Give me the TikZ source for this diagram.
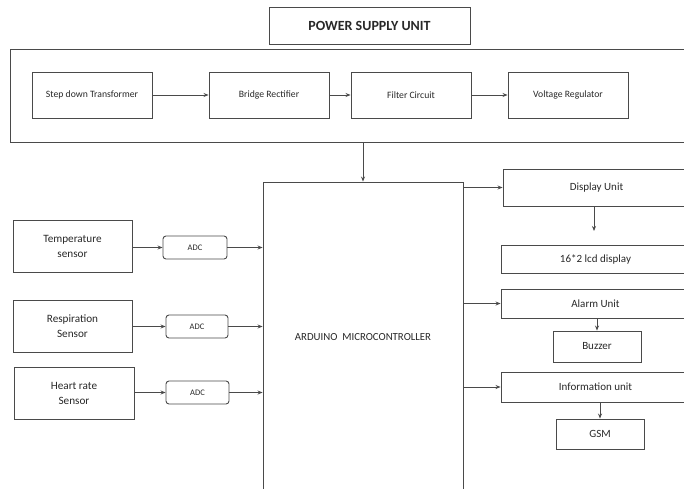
\documentclass[tikz,border=0pt]{standalone}
\usepackage{fontspec}
\setmainfont{Carlito}
\usetikzlibrary{arrows.meta}
\definecolor{ln}{HTML}{4A4A4A}
\definecolor{tx}{HTML}{282828}
\begin{document}
\begin{tikzpicture}[x=1pt,y=-1pt,
  box/.style={draw=ln, line width=0.9pt, inner sep=0pt, text=tx, font=\fontsize{9.7}{11}\selectfont, align=center},
  sbox/.style={box, font=\fontsize{11.2}{15}\selectfont},
  rbox/.style={box, font=\fontsize{11}{13}\selectfont},
  adcbox/.style={box, rounded corners=3pt, font=\fontsize{8.5}{10}\selectfont},
  arr/.style={draw=ln, line width=0.8pt, -{Stealth[length=5pt,width=4pt]}}]
\useasboundingbox (0,0) rectangle (684,488);
\clip (0,0) rectangle (684,488);
% power supply
\node[box, minimum width=201, minimum height=37, font=\bfseries\fontsize{14}{16}\selectfont] (title) at (369.5,25.5) {POWER SUPPLY UNIT};
\node[box, minimum width=708, minimum height=93] (outer) at (364,95.5) {};
\node[box, minimum width=120, minimum height=46] (std) at (92,95) {Step down Transformer};
\node[box, minimum width=120, minimum height=46] (br) at (269,95) {Bridge Rectifier};
\node[box, minimum width=120, minimum height=46] (fc) at (411,95) {Filter Circuit};
\node[box, minimum width=120, minimum height=46] (vr) at (568,95) {Voltage Regulator};
\draw[arr] (std) -- (br);
\draw[arr] (br) -- (fc);
\draw[arr] (fc) -- (vr);
% arduino
\node[box, minimum width=200, minimum height=310, font=\fontsize{10.8}{13}\selectfont] (ard) at (363,337) {ARDUINO\ \ MICROCONTROLLER};
\draw[arr] (outer.south -| ard.north) -- (ard.north);
% sensors
\node[sbox, minimum width=119, minimum height=52] (temp) at (72.5,246) {Temperature\\sensor};
\node[sbox, minimum width=119, minimum height=52] (resp) at (72.5,326) {Respiration\\Sensor};
\node[sbox, minimum width=120, minimum height=52] (heart) at (74,393) {Heart rate\\Sensor};
\node[adcbox, minimum width=64, minimum height=23] (adc1) at (195,247.5) {ADC};
\node[adcbox, minimum width=62, minimum height=23] (adc2) at (197,326.5) {ADC};
\node[adcbox, minimum width=63, minimum height=23] (adc3) at (197.5,392.5) {ADC};
\draw[arr] (adc1.west -| temp.east) -- (adc1.west);
\draw[arr] (adc2.west -| resp.east) -- (adc2.west);
\draw[arr] (adc3.west -| heart.east) -- (adc3.west);
\draw[arr] (adc1.east) -- (adc1.east -| ard.west);
\draw[arr] (adc2.east) -- (adc2.east -| ard.west);
\draw[arr] (adc3.east) -- (adc3.east -| ard.west);
% outputs
\node[rbox, minimum width=187, minimum height=37] (disp) at (596.5,187.5) {Display Unit};
\node[rbox, minimum width=189, minimum height=28] (lcd) at (595.5,259) {16*2 lcd display};
\node[rbox, minimum width=189, minimum height=29] (alarm) at (595.5,303.5) {Alarm Unit};
\node[rbox, minimum width=88, minimum height=31] (buzz) at (597,346.5) {Buzzer};
\node[rbox, minimum width=189, minimum height=30] (info) at (595.5,387) {Information unit};
\node[rbox, minimum width=88, minimum height=30] (gsm) at (600,434) {GSM};
\draw[arr] (disp.west -| ard.east) -- (disp.west);
\draw[arr] (alarm.west -| ard.east) -- (alarm.west);
\draw[arr] (info.west -| ard.east) -- (info.west);
\coordinate (lcdarrow) at (594,231);
\draw[arr] (disp.south -| lcdarrow) -- (lcdarrow);
\draw[arr] (buzz.north |- alarm.south) -- (buzz.north);
\draw[arr] (gsm.north |- info.south) -- (gsm.north);
\end{tikzpicture}
\end{document}
